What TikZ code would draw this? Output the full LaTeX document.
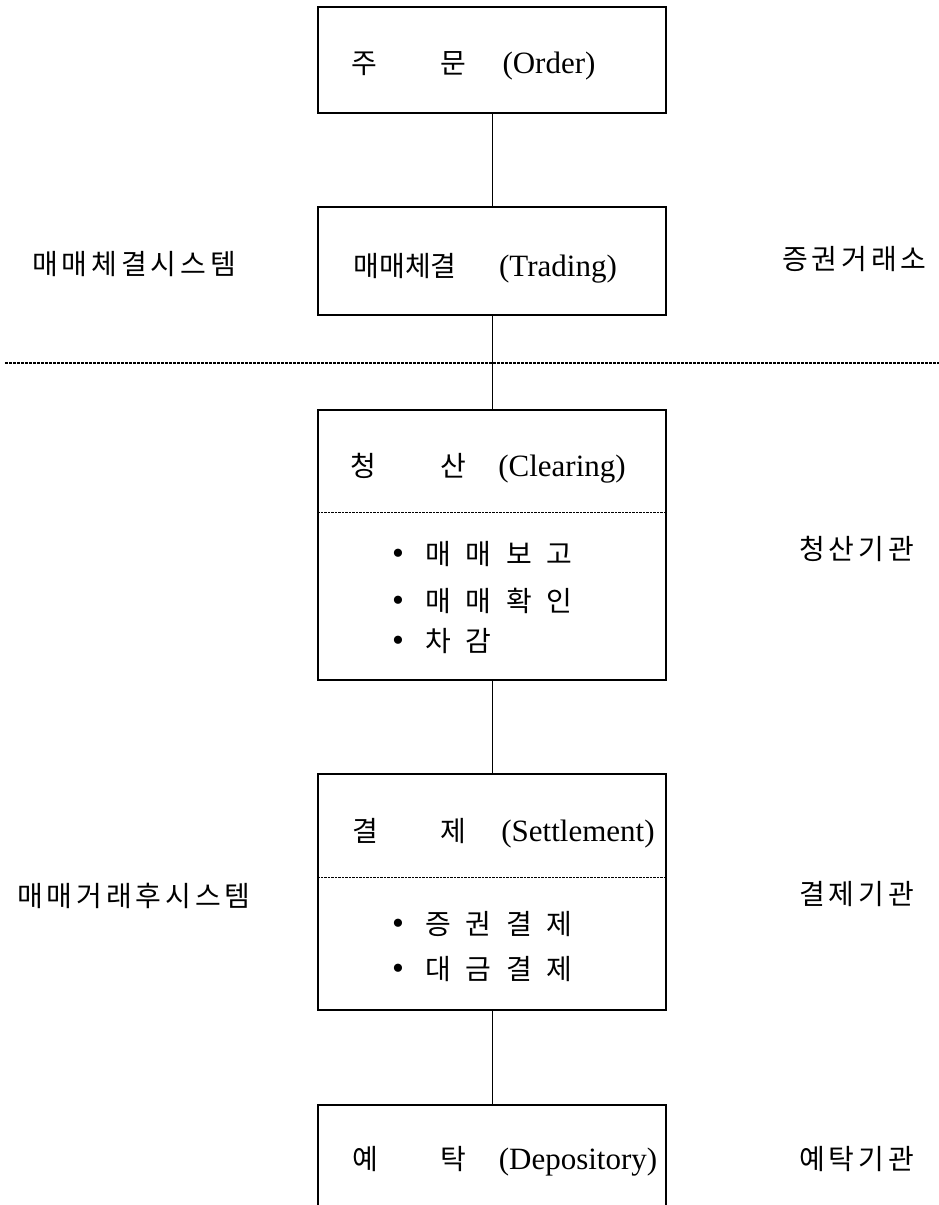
\documentclass[tikz,border=0pt]{standalone}
\usepackage{fontspec}
\setmainfont{Liberation Serif}
\newfontfamily\kr{Noto Sans CJK KR}
\newfontfamily\krlab[LetterSpace=14]{Noto Sans CJK KR}
\newfontfamily\kritem[LetterSpace=53]{Noto Sans CJK KR}
\begin{document}
\begin{tikzpicture}[x=1pt,y=-1pt,
  box/.style={draw=black, line width=1.1pt, inner sep=0pt, minimum width=348pt},
  conn/.style={draw=black, line width=1pt},
  divider/.style={draw=black, line width=0.7pt, dash pattern=on 2.5pt off 1pt},
  sepline/.style={draw=black, line width=1.1pt, dash pattern=on 3pt off 1pt},
  kt/.style={anchor=base, inner sep=0pt, font=\fontsize{28}{32}\selectfont\kr},
  lt/.style={anchor=base, inner sep=0pt, font=\fontsize{31}{35}\selectfont},
  lab/.style={anchor=base west, inner sep=0pt, font=\fontsize{28}{32}\selectfont\krlab},
  item/.style={anchor=base west, inner sep=0pt, font=\fontsize{28}{32}\selectfont}
]
\useasboundingbox (0,0) rectangle (939,1205);

% boxes
\node[box, minimum height=106pt] (order) at (492,60) {};
\node[box, minimum height=108pt] (trading) at (492,261) {};
\node[box, minimum height=270pt] (clearing) at (492,545) {};
\node[box, minimum height=236pt] (settle) at (492,892) {};
\node[box, minimum height=160pt] (depo) at (492,1185) {};

% connectors
\draw[conn] (order.south) -- (trading.north);
\draw[conn] (trading.south) -- (clearing.north);
\draw[conn] (clearing.south) -- (settle.north);
\draw[conn] (settle.south) -- (depo.north);

% separator line
\coordinate (sepL) at (5,363);
\coordinate (sepR) at (939,363);
\draw[sepline] (sepL) -- (sepR);

% dividers
\draw[divider] (clearing.west |- 0,512) -- (clearing.east |- 0,512);
\draw[divider] (settle.west |- 0,877) -- (settle.east |- 0,877);

% titles
\node[kt] (o1) at (364,73) {주};
\node[kt] (o2) at (453,73) {문};
\node[lt] (o3) at (549,73) {(Order)};

\node[kt] (t1) at (405,276) {매매체결};
\node[lt] (t2) at (558,276) {(Trading)};

\node[kt] (c1) at (363,476) {청};
\node[kt] (c2) at (453,476) {산};
\node[lt] (c3) at (562,476) {(Clearing)};

\node[kt] (s1) at (365,841) {결};
\node[kt] (s2) at (453,841) {제};
\node[lt] (s3) at (578,841) {(Settlement)};

\node[kt] (d1) at (365,1169) {예};
\node[kt] (d2) at (453,1169) {탁};
\node[lt] (d3) at (578,1169) {(Depository)};

% items
\node[item] (ci1) at (392,564) {{\fontsize{34}{34}\selectfont •}\kern 21pt{\kritem 매매보고}};
\node[item] (ci2) at (392,611) {{\fontsize{34}{34}\selectfont •}\kern 21pt{\kritem 매매확인}};
\node[item] (ci3) at (392,651) {{\fontsize{34}{34}\selectfont •}\kern 21pt{\kritem 차감}};
\node[item] (si1) at (392,934) {{\fontsize{34}{34}\selectfont •}\kern 21pt{\kritem 증권결제}};
\node[item] (si2) at (392,979) {{\fontsize{34}{34}\selectfont •}\kern 21pt{\kritem 대금결제}};

% side labels
\node[lab] (l1) at (32,274) {매매체결시스템};
\node[lab] (l2) at (17,906) {매매거래후시스템};
\node[lab] (r1) at (782,269) {증권거래소};
\node[lab] (r2) at (799,559) {청산기관};
\node[lab] (r3) at (799,904) {결제기관};
\node[lab] (r4) at (799,1169) {예탁기관};
\end{tikzpicture}
\end{document}
